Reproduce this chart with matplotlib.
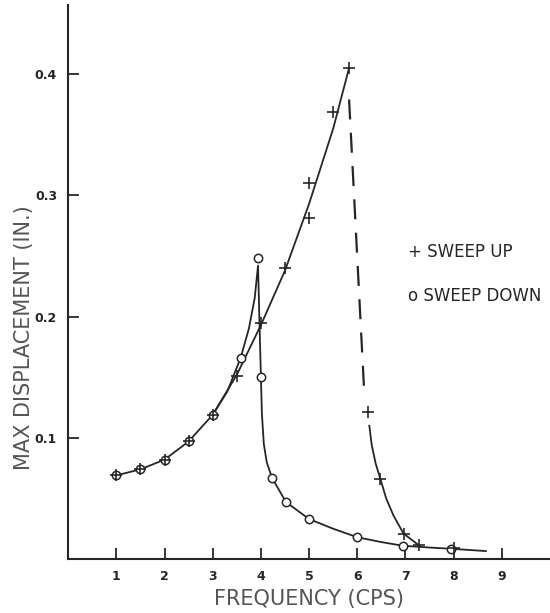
import numpy as np
import matplotlib
matplotlib.use("Agg")
import matplotlib.pyplot as plt

up_x = [1, 1.5, 2, 2.5, 3, 3.5, 4, 4.5, 5, 5, 5.5, 5.83, 6.23, 6.48, 6.96, 7.29, 8.0]
up_y = [0.069, 0.074, 0.082, 0.097, 0.119, 0.151, 0.195, 0.240, 0.281, 0.310, 0.369, 0.405,
        0.121, 0.066, 0.021, 0.012, 0.009]

down_x = [1, 1.5, 2, 2.5, 3, 3.58, 3.94, 4.0, 4.23, 4.52, 5.0, 6.0, 6.94, 7.94]
down_y = [0.069, 0.074, 0.082, 0.097, 0.119, 0.166, 0.248, 0.150, 0.067, 0.047, 0.033, 0.018, 0.011, 0.0085]

# hand-drawn curves
up_curve_x = [1, 1.5, 2, 2.5, 3, 3.5, 4, 4.5, 5, 5.5, 5.83]
up_curve_y = [0.069, 0.074, 0.082, 0.097, 0.119, 0.152, 0.193, 0.238, 0.293, 0.355, 0.405]

jump_x = [5.83, 6.15]
jump_y = [0.379, 0.133]

up_tail_x = [6.25, 6.3, 6.38, 6.48, 6.6, 6.75, 6.96, 7.29]
up_tail_y = [0.110, 0.094, 0.079, 0.066, 0.050, 0.036, 0.021, 0.011]

down_curve_x = [3.0, 3.3, 3.58, 3.75, 3.87, 3.94, 3.97, 4.0, 4.02, 4.06, 4.12, 4.23, 4.52, 5.0,
                5.5, 6.0, 6.5, 6.94, 7.5, 7.94, 8.67]
down_curve_y = [0.119, 0.138, 0.166, 0.19, 0.215, 0.242, 0.195, 0.150, 0.120, 0.095, 0.080, 0.067,
                0.047, 0.033, 0.025, 0.018, 0.014, 0.011, 0.0095, 0.0085, 0.0066]

x_ticks = [1, 2, 3, 4, 5, 6, 7, 8, 9]
y_ticks = [0.1, 0.2, 0.3, 0.4]
y_tick_labels = ["0.1", "0.2", "0.3", "0.4"]

ink = "#262626"
gray = "#555555"

fig = plt.figure(figsize=(5.5, 6.13), dpi=100)
ax = fig.add_axes([0.124, 0.088, 0.876, 0.904])

ax.plot(up_curve_x, up_curve_y, color=ink, lw=1.3)
ax.plot(jump_x, jump_y, color=ink, lw=1.6, dashes=(9, 6))
ax.plot(up_tail_x, up_tail_y, color=ink, lw=1.3)
ax.plot(down_curve_x, down_curve_y, color=ink, lw=1.3)

ax.plot(down_x, down_y, ls="none", marker="o", ms=6, mfc="white", mec=ink, mew=1.1)
ax.plot(up_x, up_y, ls="none", marker="+", ms=9, mec=ink, mew=1.2)

ax.set_xlim(0, 10)
ax.set_ylim(0, 0.457)
ax.set_xticks(x_ticks)
ax.set_yticks(y_ticks)
ax.set_yticklabels(y_tick_labels)
ax.tick_params(direction="in", length=8, width=1.3, colors=ink, labelsize=9, pad=8)
for lab in ax.get_xticklabels() + ax.get_yticklabels():
    lab.set_fontweight("bold")

for s in ["top", "right"]:
    ax.spines[s].set_visible(False)
for s in ["left", "bottom"]:
    ax.spines[s].set_linewidth(1.5)
    ax.spines[s].set_color(ink)

ax.set_xlabel("FREQUENCY (CPS)", fontsize=15, color=gray, labelpad=4)
ax.set_ylabel("MAX DISPLACEMENT (IN.)", fontsize=15, color=gray)
ax.yaxis.set_label_coords(-0.072, 0.4)

ax.text(7.05, 0.253, "+ SWEEP UP", fontsize=12, color=ink, va="center")
ax.text(7.05, 0.217, "o SWEEP DOWN", fontsize=12, color=ink, va="center")

fig.savefig("out.png", dpi=100)
